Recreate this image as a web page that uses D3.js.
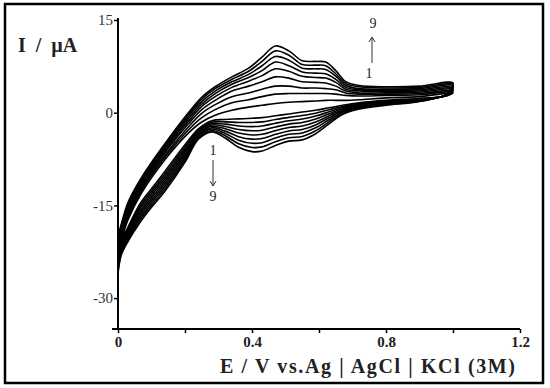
<!DOCTYPE html>
<html>
<head>
<meta charset="utf-8">
<script src="https://cdn.jsdelivr.net/npm/d3@7"></script>
<style>
  html, body { margin: 0; padding: 0; background: #fff; }
  svg { display: block; }
</style>
</head>
<body>
<div id="chart"></div>
<script>
// Potential grid (V) for the forward (anodic) and reverse (cathodic) sweeps
const anodicE = [0, 0.01, 0.03, 0.07, 0.14, 0.21, 0.25, 0.29, 0.34, 0.39, 0.43, 0.47, 0.51, 0.55, 0.59, 0.62, 0.65, 0.68, 0.72, 0.8, 0.9, 1.0];
const cathodicE = [1.0, 0.98, 0.9, 0.8, 0.72, 0.67, 0.63, 0.59, 0.55, 0.51, 0.47, 0.43, 0.4, 0.36, 0.32, 0.28, 0.24, 0.2, 0.14, 0.1, 0.065, 0.03, 0.01, 0];

// Current (µA), one row per cycle 1..9
const anodicI = [
  [-22, -20.5, -17.3, -13, -7.6, -3.3, -1.5, -0.4, 0.4, 0.9, 1.2, 1.5, 1.7, 1.8, 1.9, 2.0, 2.0, 2.0, 2.1, 2.4, 2.6, 3.2],
  [-21.75, -20.1, -16.95, -12.6, -7.2, -2.8, -0.8, 0.5, 1.6, 2.1, 2.6, 3.0, 3.1, 3.1, 3.1, 3.1, 3.0, 2.8, 2.7, 2.8, 2.9, 3.4],
  [-21.5, -19.8, -16.6, -12.3, -6.9, -2.3, -0.1, 1.3, 2.6, 3.2, 3.8, 4.3, 4.3, 4.0, 4.0, 3.9, 3.7, 3.2, 3.0, 3.0, 3.1, 3.6],
  [-21.25, -19.5, -16.25, -12.0, -6.5, -1.8, 0.5, 2.0, 3.5, 4.3, 5.0, 5.8, 5.6, 5.0, 4.9, 4.8, 4.3, 3.5, 3.2, 3.2, 3.3, 3.8],
  [-21, -19.2, -15.9, -11.7, -6.2, -1.4, 1.0, 2.6, 4.1, 5.1, 6.0, 7.1, 6.7, 5.9, 5.7, 5.6, 4.9, 3.8, 3.5, 3.4, 3.5, 4.0],
  [-20.75, -18.9, -15.55, -11.4, -5.9, -1.0, 1.4, 3.1, 4.6, 5.7, 6.8, 8.2, 7.6, 6.6, 6.4, 6.3, 5.4, 4.1, 3.7, 3.6, 3.7, 4.2],
  [-20.5, -18.6, -15.2, -11.1, -5.6, -0.6, 1.8, 3.5, 5.0, 6.2, 7.6, 9.1, 8.5, 7.2, 7.1, 7.0, 5.9, 4.4, 3.9, 3.8, 3.9, 4.4],
  [-20.25, -18.3, -14.85, -10.8, -5.3, -0.3, 2.2, 3.9, 5.4, 6.7, 8.3, 10.0, 9.3, 7.8, 7.7, 7.6, 6.3, 4.7, 4.2, 4.0, 4.1, 4.6],
  [-20, -18, -14.5, -10.5, -5.0, 0, 2.5, 4.2, 5.8, 7.2, 9.0, 10.8, 10.0, 8.4, 8.3, 8.2, 6.8, 5.0, 4.4, 4.2, 4.3, 4.8]
];
const cathodicI = [
  [3.2, 2.70, 2.30, 2.0, 1.60, 1.20, 0.80, 0.40, 0.10, -0.20, -0.5, -0.80, -0.90, -1.00, -1.10, -1.30, -2.60, -5.20, -9.5, -12.30, -14.80, -18.50, -20.80, -23.0],
  [3.4, 2.74, 2.24, 1.9, 1.48, 1.01, 0.48, -0.08, -0.46, -0.75, -1.1, -1.48, -1.58, -1.58, -1.48, -1.53, -2.81, -5.55, -9.9, -12.68, -15.18, -18.79, -21.08, -23.38],
  [3.6, 2.78, 2.18, 1.8, 1.35, 0.83, 0.15, -0.55, -1.03, -1.30, -1.7, -2.15, -2.25, -2.15, -1.85, -1.75, -3.03, -5.90, -10.3, -13.05, -15.55, -19.08, -21.35, -23.75],
  [3.8, 2.81, 2.11, 1.7, 1.23, 0.64, -0.18, -1.03, -1.59, -1.85, -2.3, -2.83, -2.93, -2.73, -2.23, -1.98, -3.24, -6.25, -10.7, -13.43, -15.93, -19.36, -21.63, -24.13],
  [4.0, 2.85, 2.05, 1.6, 1.10, 0.45, -0.50, -1.50, -2.15, -2.40, -2.9, -3.50, -3.60, -3.30, -2.60, -2.20, -3.45, -6.60, -11.1, -13.80, -16.30, -19.65, -21.90, -24.5],
  [4.2, 2.89, 1.99, 1.5, 0.98, 0.26, -0.83, -1.98, -2.71, -2.95, -3.5, -4.18, -4.28, -3.88, -2.98, -2.43, -3.66, -6.95, -11.5, -14.18, -16.68, -19.94, -22.18, -24.88],
  [4.4, 2.92, 1.93, 1.4, 0.85, 0.08, -1.15, -2.45, -3.28, -3.50, -4.1, -4.85, -4.95, -4.45, -3.35, -2.65, -3.88, -7.30, -11.9, -14.55, -17.05, -20.23, -22.45, -25.25],
  [4.6, 2.96, 1.86, 1.3, 0.73, -0.11, -1.48, -2.93, -3.84, -4.05, -4.7, -5.53, -5.63, -5.03, -3.73, -2.88, -4.09, -7.65, -12.3, -14.93, -17.43, -20.51, -22.73, -25.63],
  [4.8, 3.00, 1.80, 1.2, 0.60, -0.30, -1.80, -3.40, -4.40, -4.60, -5.3, -6.20, -6.30, -5.60, -4.10, -3.10, -4.30, -8.00, -12.7, -15.30, -17.80, -20.80, -23.00, -26.0]
];

const xTicks = [0, 0.2, 0.4, 0.6, 0.8, 1.0, 1.2];
const xTickLabels = ["0", "", "0.4", "", "0.8", "", "1.2"];
const yTicks = [15, 0, -15, -30];

const width = 550, height = 388;
const serif = "'Liberation Serif', 'Times New Roman', serif";

const svg = d3.select("#chart")
  .append("svg")
  .attr("width", width)
  .attr("height", height)
  .style("font-family", serif);

// outer frame
svg.append("rect")
  .attr("x", 5).attr("y", 4)
  .attr("width", 538).attr("height", 379)
  .attr("fill", "none")
  .attr("stroke", "#000")
  .attr("stroke-width", 2.5);

const x = d3.scaleLinear().domain([0, 1.2]).range([118, 520]);
const y = d3.scaleLinear().domain([-35, 15]).range([329, 20]);

// Y axis
const yAxis = svg.append("g")
  .attr("transform", `translate(${x(0)},0)`)
  .call(d3.axisLeft(y).tickValues(yTicks).tickSize(4).tickSizeOuter(0).tickFormat(d => String(d)))
  .attr("font-family", null)
  .attr("font-size", null);
yAxis.select(".domain").remove();
yAxis.append("line")
  .attr("x1", 0).attr("x2", 0)
  .attr("y1", y(15) - 2).attr("y2", y(-35))
  .attr("stroke", "#000").attr("stroke-width", 2);
yAxis.selectAll(".tick line").attr("stroke-width", 1.5);
yAxis.selectAll(".tick text")
  .attr("x", -5)
  .style("font-family", serif)
  .style("font-size", "15px")
  .attr("fill", "#333");

// X axis
const xAxis = svg.append("g")
  .attr("transform", `translate(0,${y(-35)})`)
  .call(d3.axisBottom(x).tickValues(xTicks).tickSize(4).tickSizeOuter(0)
    .tickFormat((d, i) => xTickLabels[i]))
  .attr("font-family", null)
  .attr("font-size", null);
xAxis.select(".domain").remove();
xAxis.append("line")
  .attr("x1", x(0) - 6).attr("x2", x(1.2))
  .attr("y1", 0).attr("y2", 0)
  .attr("stroke", "#000").attr("stroke-width", 2);
xAxis.selectAll(".tick line").attr("stroke-width", 1.5);
xAxis.selectAll(".tick text")
  .attr("y", 7)
  .style("font-family", serif)
  .style("font-size", "15px")
  .style("font-weight", "bold")
  .attr("fill", "#222");

// Axis titles
svg.append("text")
  .attr("x", 18).attr("y", 52)
  .style("font-size", "20px")
  .style("font-weight", "bold")
  .style("word-spacing", "5px")
  .attr("fill", "#222")
  .text("I / µA");

svg.append("text")
  .attr("x", 220).attr("y", 373)
  .attr("textLength", 295)
  .attr("lengthAdjust", "spacing")
  .style("font-size", "20px")
  .style("font-weight", "bold")
  .attr("fill", "#222")
  .text("E / V vs.Ag | AgCl | KCl (3M)");

// Voltammograms
const line = d3.line()
  .x(d => x(d[0]))
  .y(d => y(d[1]))
  .curve(d3.curveCatmullRom.alpha(0.5));

const curves = svg.append("g");
anodicI.forEach((row, k) => {
  const pts = anodicE.map((e, i) => [e, row[i]])
    .concat(cathodicE.map((e, i) => [e, cathodicI[k][i]]).slice(1));
  curves.append("path")
    .attr("d", line(pts))
    .attr("fill", "none")
    .attr("stroke", "#000")
    .attr("stroke-width", 1.6);
});

// Cycle annotations with arrows
function arrow(xv, yFrom, yTo) {
  const g = svg.append("g").attr("stroke", "#333").attr("fill", "none").attr("stroke-width", 1);
  g.append("line").attr("x1", xv).attr("x2", xv).attr("y1", yFrom).attr("y2", yTo);
  const dir = yTo < yFrom ? 1 : -1;
  g.append("polyline")
    .attr("points", `${xv - 3},${yTo + dir * 5} ${xv},${yTo} ${xv + 3},${yTo + dir * 5}`);
}

const ann = svg.append("g")
  .style("font-size", "14px")
  .attr("text-anchor", "middle")
  .attr("fill", "#222");
ann.append("text").attr("x", 373).attr("y", 28).text("9");
ann.append("text").attr("x", 369).attr("y", 78).text("1");
arrow(372, 63, 37);
ann.append("text").attr("x", 213).attr("y", 155).text("1");
ann.append("text").attr("x", 213).attr("y", 201).text("9");
arrow(213, 160, 186);
</script>
</body>
</html>
